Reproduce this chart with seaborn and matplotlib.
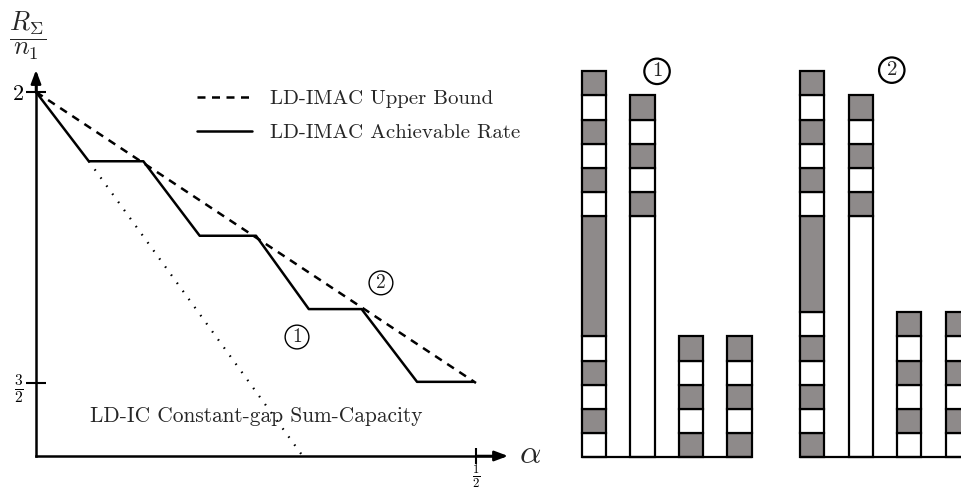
import matplotlib
matplotlib.use("Agg")
import matplotlib.pyplot as plt
import pandas as pd
import seaborn as sns

# ---------------- data ----------------
# sum-rate curves (normalised rate vs. alpha)
alpha_upper = [0.0, 0.5]
rate_upper = [2.0, 1.5]

alpha_achv = [0.0, 0.060, 0.122, 0.186, 0.250, 0.310, 0.370, 0.433, 0.497]
rate_achv = [2.0, 1.881, 1.881, 1.753, 1.753, 1.627, 1.627, 1.502, 1.502]

alpha_ic = [0.060, 0.303]
rate_ic = [1.881, 1.3746]

axis_base = 1.3746            # rate value where the alpha axis sits
y_ticks = [2.0, 1.5]
y_tick_labels = ["2", r"$\frac{3}{2}$"]
x_ticks = [0.5]
x_tick_labels = [r"$\frac{1}{2}$"]

curve_labels = ["LD-IMAC Upper Bound", "LD-IMAC Achievable Rate"]
ic_label = "LD-IC Constant-gap Sum-Capacity"

# signal-level stacks, bottom to top: (shade, number of levels)
scheme_1 = [
    [("W", 1), ("G", 1), ("W", 1), ("G", 1), ("W", 1), ("G", 5),
     ("W", 1), ("G", 1), ("W", 1), ("G", 1), ("W", 1), ("G", 1)],
    [("W", 10), ("G", 1), ("W", 1), ("G", 1), ("W", 1), ("G", 1)],
    [("G", 1), ("W", 1), ("G", 1), ("W", 1), ("G", 1)],
    [("G", 1), ("W", 1), ("G", 1), ("W", 1), ("G", 1)],
]
scheme_2 = [
    [("G", 1), ("W", 1), ("G", 1), ("W", 1), ("G", 1), ("W", 1), ("G", 4),
     ("W", 1), ("G", 1), ("W", 1), ("G", 1), ("W", 1), ("G", 1)],
    [("W", 10), ("G", 1), ("W", 1), ("G", 1), ("W", 1), ("G", 1)],
    [("W", 1), ("G", 1), ("W", 1), ("G", 1), ("W", 1), ("G", 1)],
    [("W", 1), ("G", 1), ("W", 1), ("G", 1), ("W", 1), ("G", 1)],
]
scheme_x = [[0, 1, 2, 3], [4.5, 5.5, 6.5, 7.5]]
scheme_tags = ["1", "2"]

shade_colors = {"G": "#8e8a8a", "W": "#ffffff"}

# ---------------- style ----------------
sns.set_style("white")
plt.rcParams["font.family"] = ["cmr10", "DejaVu Serif"]
plt.rcParams["mathtext.fontset"] = "cm"
plt.rcParams["axes.unicode_minus"] = False
plt.rcParams["axes.formatter.use_mathtext"] = True

W, H = 962, 491
fig = plt.figure(figsize=(W / 100, H / 100), dpi=100)


def fx(px):
    return px / W


def fy(py):
    return 1 - py / H


# ---------------- left panel: rate curves ----------------
ax = fig.add_axes([0, 0, fx(560), 1])
ax.set_xlim(-36 / 880, 524 / 880)
ax.set_ylim(2 - 399 / 582, 2 + 92 / 582)

df_upper = pd.DataFrame({"alpha": alpha_upper, "rate": rate_upper})
df_achv = pd.DataFrame({"alpha": alpha_achv, "rate": rate_achv})
df_ic = pd.DataFrame({"alpha": alpha_ic, "rate": rate_ic})

sns.lineplot(data=df_upper, x="alpha", y="rate", ax=ax, color="black",
             lw=1.8, linestyle=(0, (3.2, 2.6)), estimator=None,
             label=curve_labels[0])
sns.lineplot(data=df_achv, x="alpha", y="rate", ax=ax, color="black",
             lw=1.8, estimator=None, label=curve_labels[1])
sns.lineplot(data=df_ic, x="alpha", y="rate", ax=ax, color="black",
             lw=1.6, linestyle=(0, (0.7, 3.8)), estimator=None,
             legend=False)

# axes as arrows through the origin
for s in ["top", "right"]:
    ax.spines[s].set_visible(False)
ax.spines["left"].set_position(("data", 0))
ax.spines["bottom"].set_position(("data", axis_base))
ax.spines["left"].set_bounds(axis_base, 2.03)
ax.spines["bottom"].set_bounds(0, 0.53)
for s in ["left", "bottom"]:
    ax.spines[s].set_linewidth(1.8)
    ax.spines[s].set_color("black")
arrow = dict(arrowstyle="-|>,head_length=0.8,head_width=0.3", lw=1.8,
             color="black", shrinkA=0, shrinkB=0)
ax.annotate("", xy=(0, 2.0378), xytext=(0, 2.0), arrowprops=arrow)
ax.annotate("", xy=(0.5364, axis_base), xytext=(0.5, axis_base),
            arrowprops=arrow)

ax.set_yticks(y_ticks, y_tick_labels, fontsize=16)
ax.set_xticks(x_ticks, x_tick_labels, fontsize=13)
ax.tick_params(axis="both", direction="inout", width=1.5, colors="black",
               bottom=True, left=True)
ax.tick_params(axis="y", length=14, pad=2)
ax.tick_params(axis="x", length=11, pad=-1)
ax.set_xlabel("")
ax.set_ylabel("")

fig.text(fx(530), fy(455), r"$\alpha$", fontsize=24, ha="center",
         va="center")
fig.text(fx(28), fy(36), r"$\dfrac{R_\Sigma}{n_1}$", fontsize=19,
         ha="center", va="center")
fig.text(fx(90), fy(416), ic_label, fontsize=15.4, ha="left", va="center")

leg = ax.legend(loc="center left", bbox_to_anchor=(fx(197), fy(116)),
                bbox_transform=fig.transFigure, frameon=False, fontsize=15,
                handlelength=2.65, handletextpad=0.85, labelspacing=0.72,
                borderpad=0, borderaxespad=0)

circ_left = dict(boxstyle="circle,pad=0.15", fc="none", ec="black", lw=1.0)
ax.text(0.2966, 1.579, "1", fontsize=14, ha="center", va="center",
        bbox=circ_left)
ax.text(0.392, 1.672, "2", fontsize=14, ha="center", va="center",
        bbox=circ_left)

# ---------------- right panel: level diagrams ----------------
bx = fig.add_axes([fx(560), 0, 1 - fx(560), 1])
bx.set_xlim(-0.701, 7.588)
bx.set_ylim(-1.41, 18.96)
bx.axis("off")

for xs, scheme in zip(scheme_x, [scheme_1, scheme_2]):
    bx.hlines(0, xs[0] - 0.25, xs[-1] + 0.25, color="black", lw=1.6)
    for x, stack in zip(xs, scheme):
        bottom = 0
        for shade, h in stack:
            bx.bar(x, h, bottom=bottom, width=0.5,
                   color=shade_colors[shade], edgecolor="black",
                   linewidth=1.6)
            bottom += h

circ_right = dict(boxstyle="circle,pad=0.18", fc="none", ec="black", lw=1.6)
bx.text(1.30, 16.0, scheme_tags[0], fontsize=15, ha="center", va="center",
        bbox=circ_right)
bx.text(6.14, 16.05, scheme_tags[1], fontsize=15, ha="center", va="center",
        bbox=circ_right)

fig.savefig("out.png", dpi=100)
